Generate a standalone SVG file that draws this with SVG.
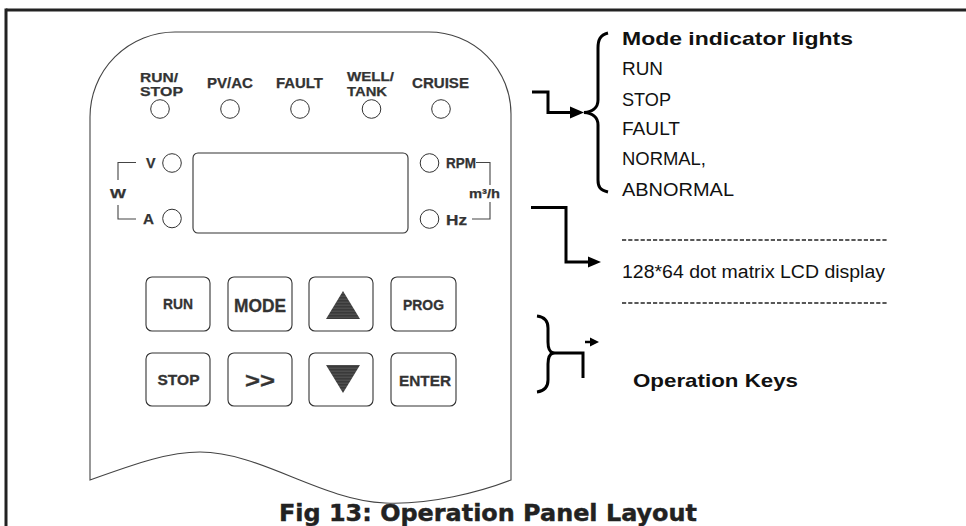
<svg xmlns="http://www.w3.org/2000/svg" width="966" height="526" viewBox="0 0 966 526">
<style>
.lbl{font-family:"Liberation Sans",Arial,sans-serif;font-weight:bold;fill:#333;stroke:#333;stroke-width:0.25}
.key{font-family:"Liberation Sans",Arial,sans-serif;font-weight:bold;fill:#333;stroke:#333;stroke-width:0.3;text-anchor:middle}
.txt{font-family:"Liberation Sans",Arial,sans-serif;fill:#111}
.thin{fill:none;stroke:#444;stroke-width:1.1}
.led{fill:#fff;stroke:#333;stroke-width:1}
.btn{fill:#fff;stroke:#333;stroke-width:1.1}
.thick{fill:none;stroke:#000;stroke-width:3;stroke-linejoin:miter}
.dash{stroke:#222;stroke-width:1.4;stroke-dasharray:4.2 2}
</style>
<defs>
<pattern id="stripes" patternUnits="userSpaceOnUse" width="6" height="3">
<rect width="6" height="3" fill="#3a3a3a"/>
<line x1="0" y1="2.2" x2="6" y2="2.2" stroke="#6a6a6a" stroke-width="0.6"/>
</pattern>
</defs>
<rect width="966" height="526" fill="#fff"/>
<g id="frame">
<line x1="6" y1="10" x2="966" y2="10" stroke="#222" stroke-width="3"/>
<line x1="6" y1="8.5" x2="6" y2="526" stroke="#222" stroke-width="3"/>
</g>
<g id="panel">
<path class="thin" d="M 90 480 L 90 117 A 85 85 0 0 1 175 32 L 429 32 A 82 82 0 0 1 511 114 L 511 480 C 480 492 430 505 385 503 C 320 500 260 452 200 452 C 170 452 140 462 90 480 Z"/>
</g>
<g id="mode-leds">
<text class="lbl" x="140" y="81.5" font-size="13" textLength="38" lengthAdjust="spacingAndGlyphs">RUN/</text>
<text class="lbl" x="140" y="96" font-size="13" textLength="43" lengthAdjust="spacingAndGlyphs">STOP</text>
<circle class="led" cx="160" cy="109" r="9.3"/>
<text class="lbl" x="207" y="88" font-size="14" textLength="46" lengthAdjust="spacingAndGlyphs">PV/AC</text>
<circle class="led" cx="230" cy="109" r="9.3"/>
<text class="lbl" x="276" y="88" font-size="14" textLength="47" lengthAdjust="spacingAndGlyphs">FAULT</text>
<circle class="led" cx="300" cy="109" r="9.3"/>
<text class="lbl" x="347" y="81" font-size="13" textLength="47" lengthAdjust="spacingAndGlyphs">WELL/</text>
<text class="lbl" x="347" y="96" font-size="13" textLength="40" lengthAdjust="spacingAndGlyphs">TANK</text>
<circle class="led" cx="371.5" cy="109" r="9.3"/>
<text class="lbl" x="412" y="88" font-size="14" textLength="57" lengthAdjust="spacingAndGlyphs">CRUISE</text>
<circle class="led" cx="441" cy="109" r="9.3"/>
</g>
<g id="unit-leds-left">
<path class="thin" d="M 136 162.5 L 118 162.5 L 118 180 M 118 205 L 118 219 L 136 219"/>
<text class="lbl" x="110" y="198" font-size="13" textLength="16" lengthAdjust="spacingAndGlyphs">W</text>
<text class="lbl" x="146" y="168" font-size="14" textLength="9.5" lengthAdjust="spacingAndGlyphs">V</text>
<circle class="led" cx="172" cy="163" r="9.3"/>
<text class="lbl" x="143" y="224" font-size="14" textLength="11" lengthAdjust="spacingAndGlyphs">A</text>
<circle class="led" cx="172" cy="218.5" r="9.3"/>
</g>
<g id="display">
<rect x="193" y="153" width="215" height="80" rx="5" class="btn"/>
</g>
<g id="unit-leds-right">
<circle class="led" cx="429.5" cy="163" r="9.3"/>
<text class="lbl" x="446" y="168" font-size="14" textLength="30" lengthAdjust="spacingAndGlyphs">RPM</text>
<text class="lbl" x="469" y="198" font-size="13" textLength="31" lengthAdjust="spacingAndGlyphs">m³/h</text>
<circle class="led" cx="429.5" cy="219" r="9.3"/>
<text class="lbl" x="446" y="224.5" font-size="14" textLength="21" lengthAdjust="spacingAndGlyphs">Hz</text>
<path class="thin" d="M 476 162.5 L 490 162.5 L 490 185 M 490 202 L 490 219 L 472 219"/>
</g>
<g id="keys">
<g id="key-run"><rect class="btn" x="146" y="277" width="64" height="54" rx="6"/><text class="key" x="178" y="309" font-size="15" textLength="30" lengthAdjust="spacingAndGlyphs">RUN</text></g>
<g id="key-mode"><rect class="btn" x="228" y="277" width="64" height="54" rx="6"/><text class="key" x="260" y="312" font-size="18" textLength="52" lengthAdjust="spacingAndGlyphs">MODE</text></g>
<g id="key-up"><rect class="btn" x="309" y="277" width="64" height="54" rx="6"/><polygon points="343,291 326,319 360,319" fill="url(#stripes)"/></g>
<g id="key-prog"><rect class="btn" x="391" y="277" width="65" height="54" rx="6"/><text class="key" x="423.5" y="310" font-size="15" textLength="41" lengthAdjust="spacingAndGlyphs">PROG</text></g>
<g id="key-stop"><rect class="btn" x="146" y="353" width="64" height="53" rx="6"/><text class="key" x="178.5" y="385" font-size="15" textLength="42" lengthAdjust="spacingAndGlyphs">STOP</text></g>
<g id="key-shift"><rect class="btn" x="228" y="353" width="64" height="53" rx="6"/><text class="key" x="260" y="388" font-size="22" textLength="30" lengthAdjust="spacingAndGlyphs">&gt;&gt;</text></g>
<g id="key-down"><rect class="btn" x="309" y="353" width="64" height="53" rx="6"/><polygon points="326,365 360,365 343,393" fill="url(#stripes)"/></g>
<g id="key-enter"><rect class="btn" x="391" y="353" width="65" height="53" rx="6"/><text class="key" x="425" y="386" font-size="15.5" textLength="52" lengthAdjust="spacingAndGlyphs">ENTER</text></g>
</g>
<g id="connectors">
<path class="thick" d="M 532 92 L 548 92 L 548 112.5 L 572 112.5"/>
<polygon points="584,112.5 570,106.5 570,118.5" fill="#000"/>
<path class="thick" d="M 608 33 C 600 35 598 40 598 48 L 598 100 C 598 108 592 112 584 112.5 C 592 113 598 117 598 125 L 598 180 C 598 187 600 190 608 192"/>
<path class="thick" d="M 531 207.5 L 566 207.5 L 566 262 L 590 262"/>
<polygon points="601,262 588,256.5 588,267.5" fill="#000"/>
<path class="thick" d="M 537 316 C 545 317 548 321 548 328 L 548 342 C 548 349 550 352 553 353 C 550 354 548 357 548 364 L 548 380 C 548 387 545 391 537 392"/>
<path class="thick" d="M 551 353 L 583 353 L 583 378"/>
<line x1="585" y1="342" x2="592" y2="342" stroke="#000" stroke-width="2.5"/>
<polygon points="599,342 590,337.5 590,346.5" fill="#000"/>
</g>
<g id="mode-legend">
<text class="txt" x="622" y="45" font-size="19" font-weight="bold" fill="#000" textLength="231" lengthAdjust="spacingAndGlyphs">Mode indicator lights</text>
<text class="txt" x="622" y="75" font-size="18" textLength="41" lengthAdjust="spacingAndGlyphs">RUN</text>
<text class="txt" x="622" y="105.5" font-size="18" textLength="49" lengthAdjust="spacingAndGlyphs">STOP</text>
<text class="txt" x="622" y="135" font-size="18" textLength="58" lengthAdjust="spacingAndGlyphs">FAULT</text>
<text class="txt" x="622" y="164.5" font-size="18" textLength="84" lengthAdjust="spacingAndGlyphs">NORMAL,</text>
<text class="txt" x="622" y="196" font-size="18" textLength="112" lengthAdjust="spacingAndGlyphs">ABNORMAL</text>
</g>
<g id="lcd-legend">
<line class="dash" x1="622" y1="240" x2="888" y2="240"/>
<text class="txt" x="622" y="277.5" font-size="18" textLength="263" lengthAdjust="spacingAndGlyphs">128*64 dot matrix LCD display</text>
<line class="dash" x1="622" y1="303" x2="888" y2="303"/>
</g>
<g id="keys-legend">
<text class="txt" x="633" y="387" font-size="19" font-weight="bold" fill="#000" textLength="165" lengthAdjust="spacingAndGlyphs">Operation Keys</text>
</g>
<g id="title">
<text x="279" y="521" font-family="'DejaVu Sans',sans-serif" font-weight="bold" font-size="23" fill="#222" stroke="#222" stroke-width="0.4" textLength="418" lengthAdjust="spacingAndGlyphs">Fig 13: Operation Panel Layout</text>
</g>
</svg>
